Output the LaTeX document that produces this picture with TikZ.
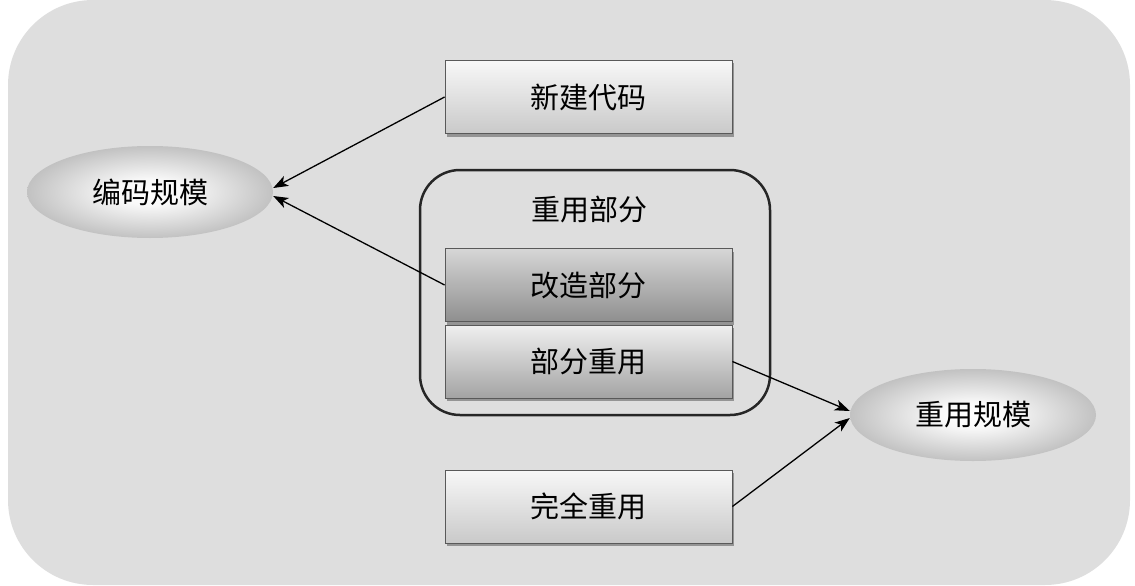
\documentclass[tikz,border=0pt]{standalone}
\usepackage{fontspec}
\newfontfamily\cjk{Noto Sans CJK SC}
\usetikzlibrary{arrows.meta,shadows,shapes.geometric}
\pgfdeclareradialshading{ellshade}{\pgfpoint{0bp}{0bp}}{color(0bp)=(white); color(7bp)=(white!95!gray); color(35bp)=(gray!72); color(100bp)=(gray!72)}
\tikzset{
  txt/.style={font=\cjk\fontsize{29}{34}\selectfont, text=black},
  boxbase/.style={txt, draw=black!65, line width=0.8, minimum width=287, minimum height=73, inner sep=0,
     drop shadow={shadow xshift=1.5pt, shadow yshift=-3pt, fill=black!70, opacity=0.5}},
  lightbox/.style={boxbase, top color=gray!6, bottom color=gray!42},
  darkbox/.style={boxbase, top color=gray!32, bottom color=gray!88},
  midbox/.style={boxbase, top color=gray!12, bottom color=gray!72},
  scaleell/.style={txt, ellipse, inner sep=0, minimum width=246, minimum height=92, shading=ellshade},
  grpbox/.style={draw=black!85, line width=2.5, rounded corners=40, minimum width=350, minimum height=245, inner sep=0},
  arr/.style={draw=black, line width=1.3, -{Stealth[length=15pt, width=11pt, inset=4pt]}}
}
\begin{document}
\begin{tikzpicture}[x=1pt, y=-1pt]
\useasboundingbox (0,0) rectangle (1135,586);
\fill[gray!26, rounded corners=85] (8,0) rectangle (1130,585);
\node[grpbox] (grp) at (595,292.5) {};
\node[txt] (grplabel) at (589,209) {重用部分};
\node[lightbox] (xin) at (588.5,97) {新建代码};
\node[darkbox] (gz) at (588.5,285) {改造部分};
\node[midbox] (bf) at (588.5,361.5) {部分重用};
\node[lightbox] (wq) at (588.5,506.5) {完全重用};
\node[scaleell] (bm) at (150,192) {编码规模};
\node[scaleell] (rm) at (973,415) {重用规模};
\draw[arr] (xin.west) -- ([yshift=4pt]bm.east);
\draw[arr] (gz.west) -- ([yshift=-4pt]bm.east);
\draw[arr] (bf.east) -- ([yshift=4pt]rm.west);
\draw[arr] (wq.east) -- ([yshift=-3pt]rm.west);
\end{tikzpicture}
\end{document}
